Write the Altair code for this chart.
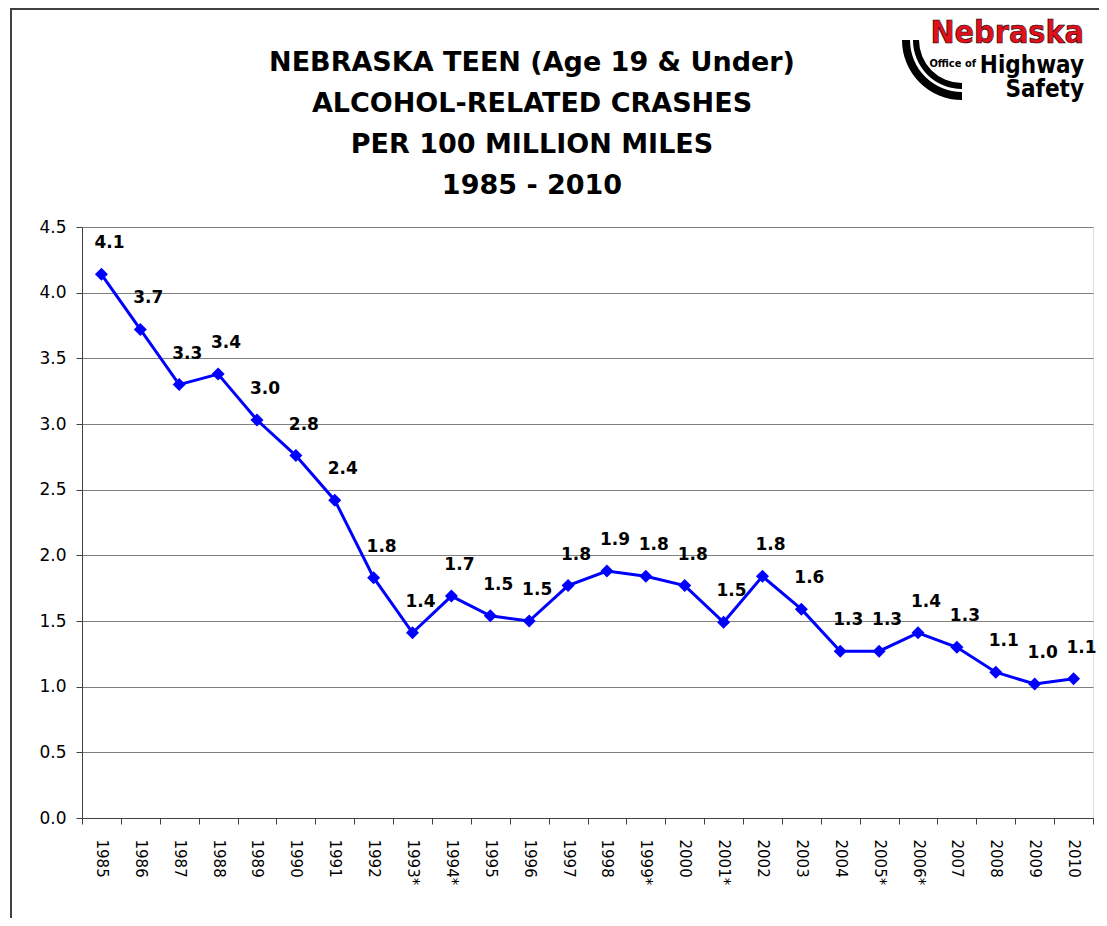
import math
import altair as alt
import pandas as pd

years = ["1985", "1986", "1987", "1988", "1989", "1990", "1991", "1992", "1993*", "1994*",
         "1995", "1996", "1997", "1998", "1999*", "2000", "2001*", "2002", "2003", "2004",
         "2005*", "2006*", "2007", "2008", "2009", "2010"]
rates = [4.14, 3.72, 3.30, 3.38, 3.03, 2.76, 2.42, 1.83, 1.41, 1.69,
         1.54, 1.50, 1.77, 1.88, 1.84, 1.77, 1.49, 1.84, 1.59, 1.27,
         1.27, 1.41, 1.30, 1.11, 1.02, 1.06]
labels = ["4.1", "3.7", "3.3", "3.4", "3.0", "2.8", "2.4", "1.8", "1.4", "1.7",
          "1.5", "1.5", "1.8", "1.9", "1.8", "1.8", "1.5", "1.8", "1.6", "1.3",
          "1.3", "1.4", "1.3", "1.1", "1.0", "1.1"]
y_ticks = [0.0, 0.5, 1.0, 1.5, 2.0, 2.5, 3.0, 3.5, 4.0, 4.5]
title_text = "NEBRASKA TEEN (Age 19 & Under)\nALCOHOL-RELATED CRASHES\nPER 100 MILLION MILES\n1985 - 2010"

df = pd.DataFrame({"year": years, "rate": rates, "label": labels})

W, H = 1011, 591
BLUE = "#0000FF"

x_enc = alt.X("year:N", sort=years, title=None,
              scale=alt.Scale(paddingInner=0, paddingOuter=0),
              axis=alt.Axis(labelAngle=90, labelAlign="left", labelBaseline="middle",
                            labelFont="DejaVu Sans", labelFontSize=15, labelColor="black",
                            labelPadding=15, tickSize=6, tickColor="#404040", tickBand="extent",
                            bandPosition=0, domainColor="#404040", grid=False))
y_enc = alt.Y("rate:Q", title=None,
              scale=alt.Scale(domain=[0, 4.5], nice=False, zero=True),
              axis=alt.Axis(values=y_ticks, format=".1f", labelFont="DejaVu Sans",
                            labelFontSize=17, labelColor="black", labelPadding=10,
                            tickSize=6, tickColor="#404040", domainColor="#404040",
                            grid=True, gridColor="#808080", gridWidth=1))

base = alt.Chart(df).encode(x=x_enc, y=y_enc)

line = base.mark_line(color=BLUE, strokeWidth=3)
points = base.mark_point(shape="diamond", filled=True, color=BLUE, size=170, opacity=1)
text = base.mark_text(dx=8, dy=-31, font="DejaVu Sans", fontWeight="bold",
                      fontSize=17, color="black", align="center").encode(text="label:N")

one = pd.DataFrame({"k": [0]})
title_layer = alt.Chart(pd.DataFrame({"t": [title_text]})).mark_text(
    font="DejaVu Sans", fontWeight="bold", fontSize=27, lineHeight=41, lineBreak="\n",
    color="black", align="center", baseline="top").encode(
    x=alt.value(450), y=alt.value(-177), text="t:N")

frame_left = alt.Chart(one).mark_rule(color="#404040", strokeWidth=2).encode(
    x=alt.value(-71), y=alt.value(-219), y2=alt.value(700))
frame_top = alt.Chart(one).mark_rule(color="#404040", strokeWidth=2).encode(
    x=alt.value(-71), x2=alt.value(1030), y=alt.value(-218))

logo_font = "DejaVu Sans Condensed, DejaVu Sans, sans-serif"
arc_outer = alt.Chart(one).mark_arc(color="black", theta=math.pi, theta2=1.5 * math.pi,
                                    radius=60, radius2=52).encode(
    x=alt.value(880), y=alt.value(-187))
arc_inner = alt.Chart(one).mark_arc(color="black", theta=math.pi, theta2=1.5 * math.pi,
                                    radius=49, radius2=43).encode(
    x=alt.value(880), y=alt.value(-187))
logo_neb = alt.Chart(pd.DataFrame({"t": ["Nebraska"]})).mark_text(
    font=logo_font, fontWeight="bold", fontSize=32, color="#E3101C", align="right",
    baseline="alphabetic", stroke="black", strokeWidth=0.6).encode(
    x=alt.value(1002), y=alt.value(-184), text="t:N")
logo_office = alt.Chart(pd.DataFrame({"t": ["Office of"]})).mark_text(
    font=logo_font, fontWeight="bold", fontSize=11, color="black", align="right",
    baseline="alphabetic").encode(x=alt.value(894), y=alt.value(-160), text="t:N")
logo_high = alt.Chart(pd.DataFrame({"t": ["Highway"]})).mark_text(
    font=logo_font, fontWeight="bold", fontSize=24, color="black", align="right",
    baseline="alphabetic").encode(x=alt.value(1002), y=alt.value(-154), text="t:N")
logo_safe = alt.Chart(pd.DataFrame({"t": ["Safety"]})).mark_text(
    font=logo_font, fontWeight="bold", fontSize=24, color="black", align="right",
    baseline="alphabetic").encode(x=alt.value(1002), y=alt.value(-130), text="t:N")

chart = alt.layer(line, points, text, title_layer, frame_left, frame_top,
                  arc_outer, arc_inner, logo_neb, logo_office, logo_high, logo_safe).properties(
    width=W, height=H,
    autosize=alt.AutoSizeParams(type="none"),
    padding={"left": 74, "top": 219, "right": 6, "bottom": 100},
).configure_view(stroke="#808080", strokeWidth=1).configure(background="white")

chart.save("out.html", embed_options={"renderer": "svg", "actions": False})
